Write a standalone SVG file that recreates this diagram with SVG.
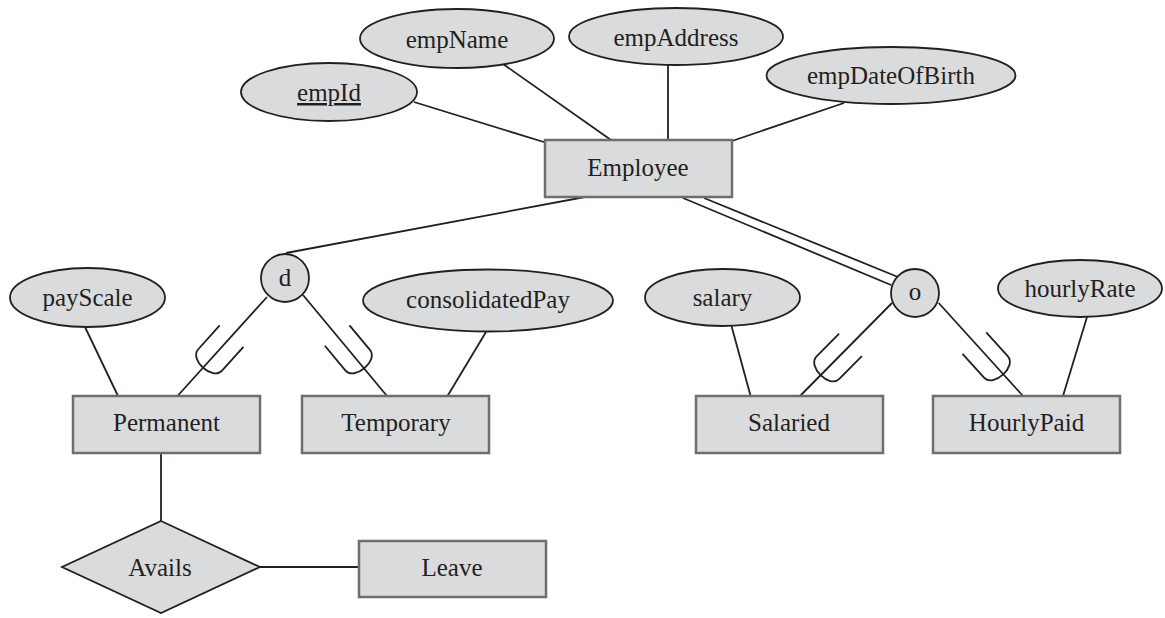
<svg xmlns="http://www.w3.org/2000/svg" xmlns:xlink="http://www.w3.org/1999/xlink" width="1165" height="618" viewBox="0 0 1165 618">
<style>
  .ent { fill: #dadbdd; stroke: #6d6e70; stroke-width: 2.5; }
  .att { fill: #dadbdd; stroke: #231f20; stroke-width: 1.8; }
  .rel { fill: #dadbdd; stroke: #231f20; stroke-width: 1.8; }
  .lbl { font-family: "Liberation Serif", "Times New Roman", serif; font-size: 25px; fill: #231f20; text-anchor: middle; }
  .con line, .con path, .con use { stroke: #231f20; stroke-width: 1.8; fill: none; }
</style>
<defs>
  <path id="cup" d="M -16,-24 L -16,8 C -16,22 16,22 16,8 L 16,-24"/>
</defs>
<rect width="1165" height="618" fill="#ffffff"/>

<g id="connectors" class="con">
  <line x1="414" y1="102" x2="547" y2="143"/>
  <line x1="503" y1="64" x2="611" y2="140"/>
  <line x1="668" y1="65" x2="668" y2="140"/>
  <line x1="844" y1="103" x2="732" y2="141"/>
  <line x1="585" y1="197" x2="286" y2="253"/>
  <line x1="683" y1="198" x2="891" y2="285"/>
  <line x1="704" y1="198" x2="898" y2="277"/>
  <line x1="267" y1="297" x2="177.5" y2="396"/>
  <line x1="303" y1="295" x2="387" y2="396"/>
  <line x1="892" y1="303" x2="800" y2="396"/>
  <line x1="938.7" y1="303" x2="1023" y2="396"/>
  <line x1="85" y1="327" x2="118" y2="396"/>
  <line x1="486" y1="332" x2="447.5" y2="396"/>
  <line x1="731.5" y1="326" x2="750.6" y2="396"/>
  <line x1="1087" y1="317" x2="1063" y2="396"/>
  <line x1="161" y1="453" x2="161" y2="521"/>
  <line x1="260" y1="567" x2="358" y2="567"/>
  <use xlink:href="#cup" transform="translate(215.5,354) rotate(42)"/>
  <use xlink:href="#cup" transform="translate(352.5,354) rotate(-39.7)"/>
  <use xlink:href="#cup" transform="translate(833.6,362) rotate(44.7)"/>
  <use xlink:href="#cup" transform="translate(990.5,361) rotate(-42.2)"/>
</g>

<g id="empId">
  <ellipse class="att" cx="329" cy="92" rx="88" ry="29"/>
  <text class="lbl" x="329" y="101" text-decoration="underline">empId</text>
</g>
<g id="empName">
  <ellipse class="att" cx="457" cy="38.5" rx="97" ry="29.5"/>
  <text class="lbl" x="457" y="47.5">empName</text>
</g>
<g id="empAddress">
  <ellipse class="att" cx="676" cy="36.5" rx="107" ry="28.5"/>
  <text class="lbl" x="676" y="45.5">empAddress</text>
</g>
<g id="empDateOfBirth">
  <ellipse class="att" cx="891" cy="75.5" rx="124.5" ry="28.5"/>
  <text class="lbl" x="891" y="84">empDateOfBirth</text>
</g>
<g id="Employee">
  <rect class="ent" x="545" y="140" width="187" height="57"/>
  <text class="lbl" x="638" y="176">Employee</text>
</g>
<g id="d">
  <circle class="rel" cx="285" cy="278" r="24"/>
  <text class="lbl" x="285" y="286">d</text>
</g>
<g id="o">
  <circle class="rel" cx="915" cy="293" r="24"/>
  <text class="lbl" x="915" y="300">o</text>
</g>
<g id="payScale">
  <ellipse class="att" cx="87.5" cy="297.5" rx="77.5" ry="29.5"/>
  <text class="lbl" x="87.5" y="306">payScale</text>
</g>
<g id="consolidatedPay">
  <ellipse class="att" cx="488" cy="300.5" rx="125" ry="31"/>
  <text class="lbl" x="488" y="308">consolidatedPay</text>
</g>
<g id="salary">
  <ellipse class="att" cx="722.5" cy="297.5" rx="77.5" ry="28.5"/>
  <text class="lbl" x="722.5" y="306">salary</text>
</g>
<g id="hourlyRate">
  <ellipse class="att" cx="1080" cy="288.5" rx="82" ry="28.5"/>
  <text class="lbl" x="1080" y="297">hourlyRate</text>
</g>
<g id="Permanent">
  <rect class="ent" x="73" y="396" width="187" height="57"/>
  <text class="lbl" x="166.5" y="431">Permanent</text>
</g>
<g id="Temporary">
  <rect class="ent" x="302" y="396" width="187" height="57"/>
  <text class="lbl" x="396" y="431">Temporary</text>
</g>
<g id="Salaried">
  <rect class="ent" x="696" y="396" width="187" height="57"/>
  <text class="lbl" x="789" y="431">Salaried</text>
</g>
<g id="HourlyPaid">
  <rect class="ent" x="933" y="396" width="187" height="57"/>
  <text class="lbl" x="1026.5" y="431">HourlyPaid</text>
</g>
<g id="Avails">
  <polygon class="rel" points="161,521 260,567 161,613 62,567"/>
  <text class="lbl" x="160" y="576">Avails</text>
</g>
<g id="Leave">
  <rect class="ent" x="359" y="541" width="187" height="56"/>
  <text class="lbl" x="452" y="576">Leave</text>
</g>
</svg>
